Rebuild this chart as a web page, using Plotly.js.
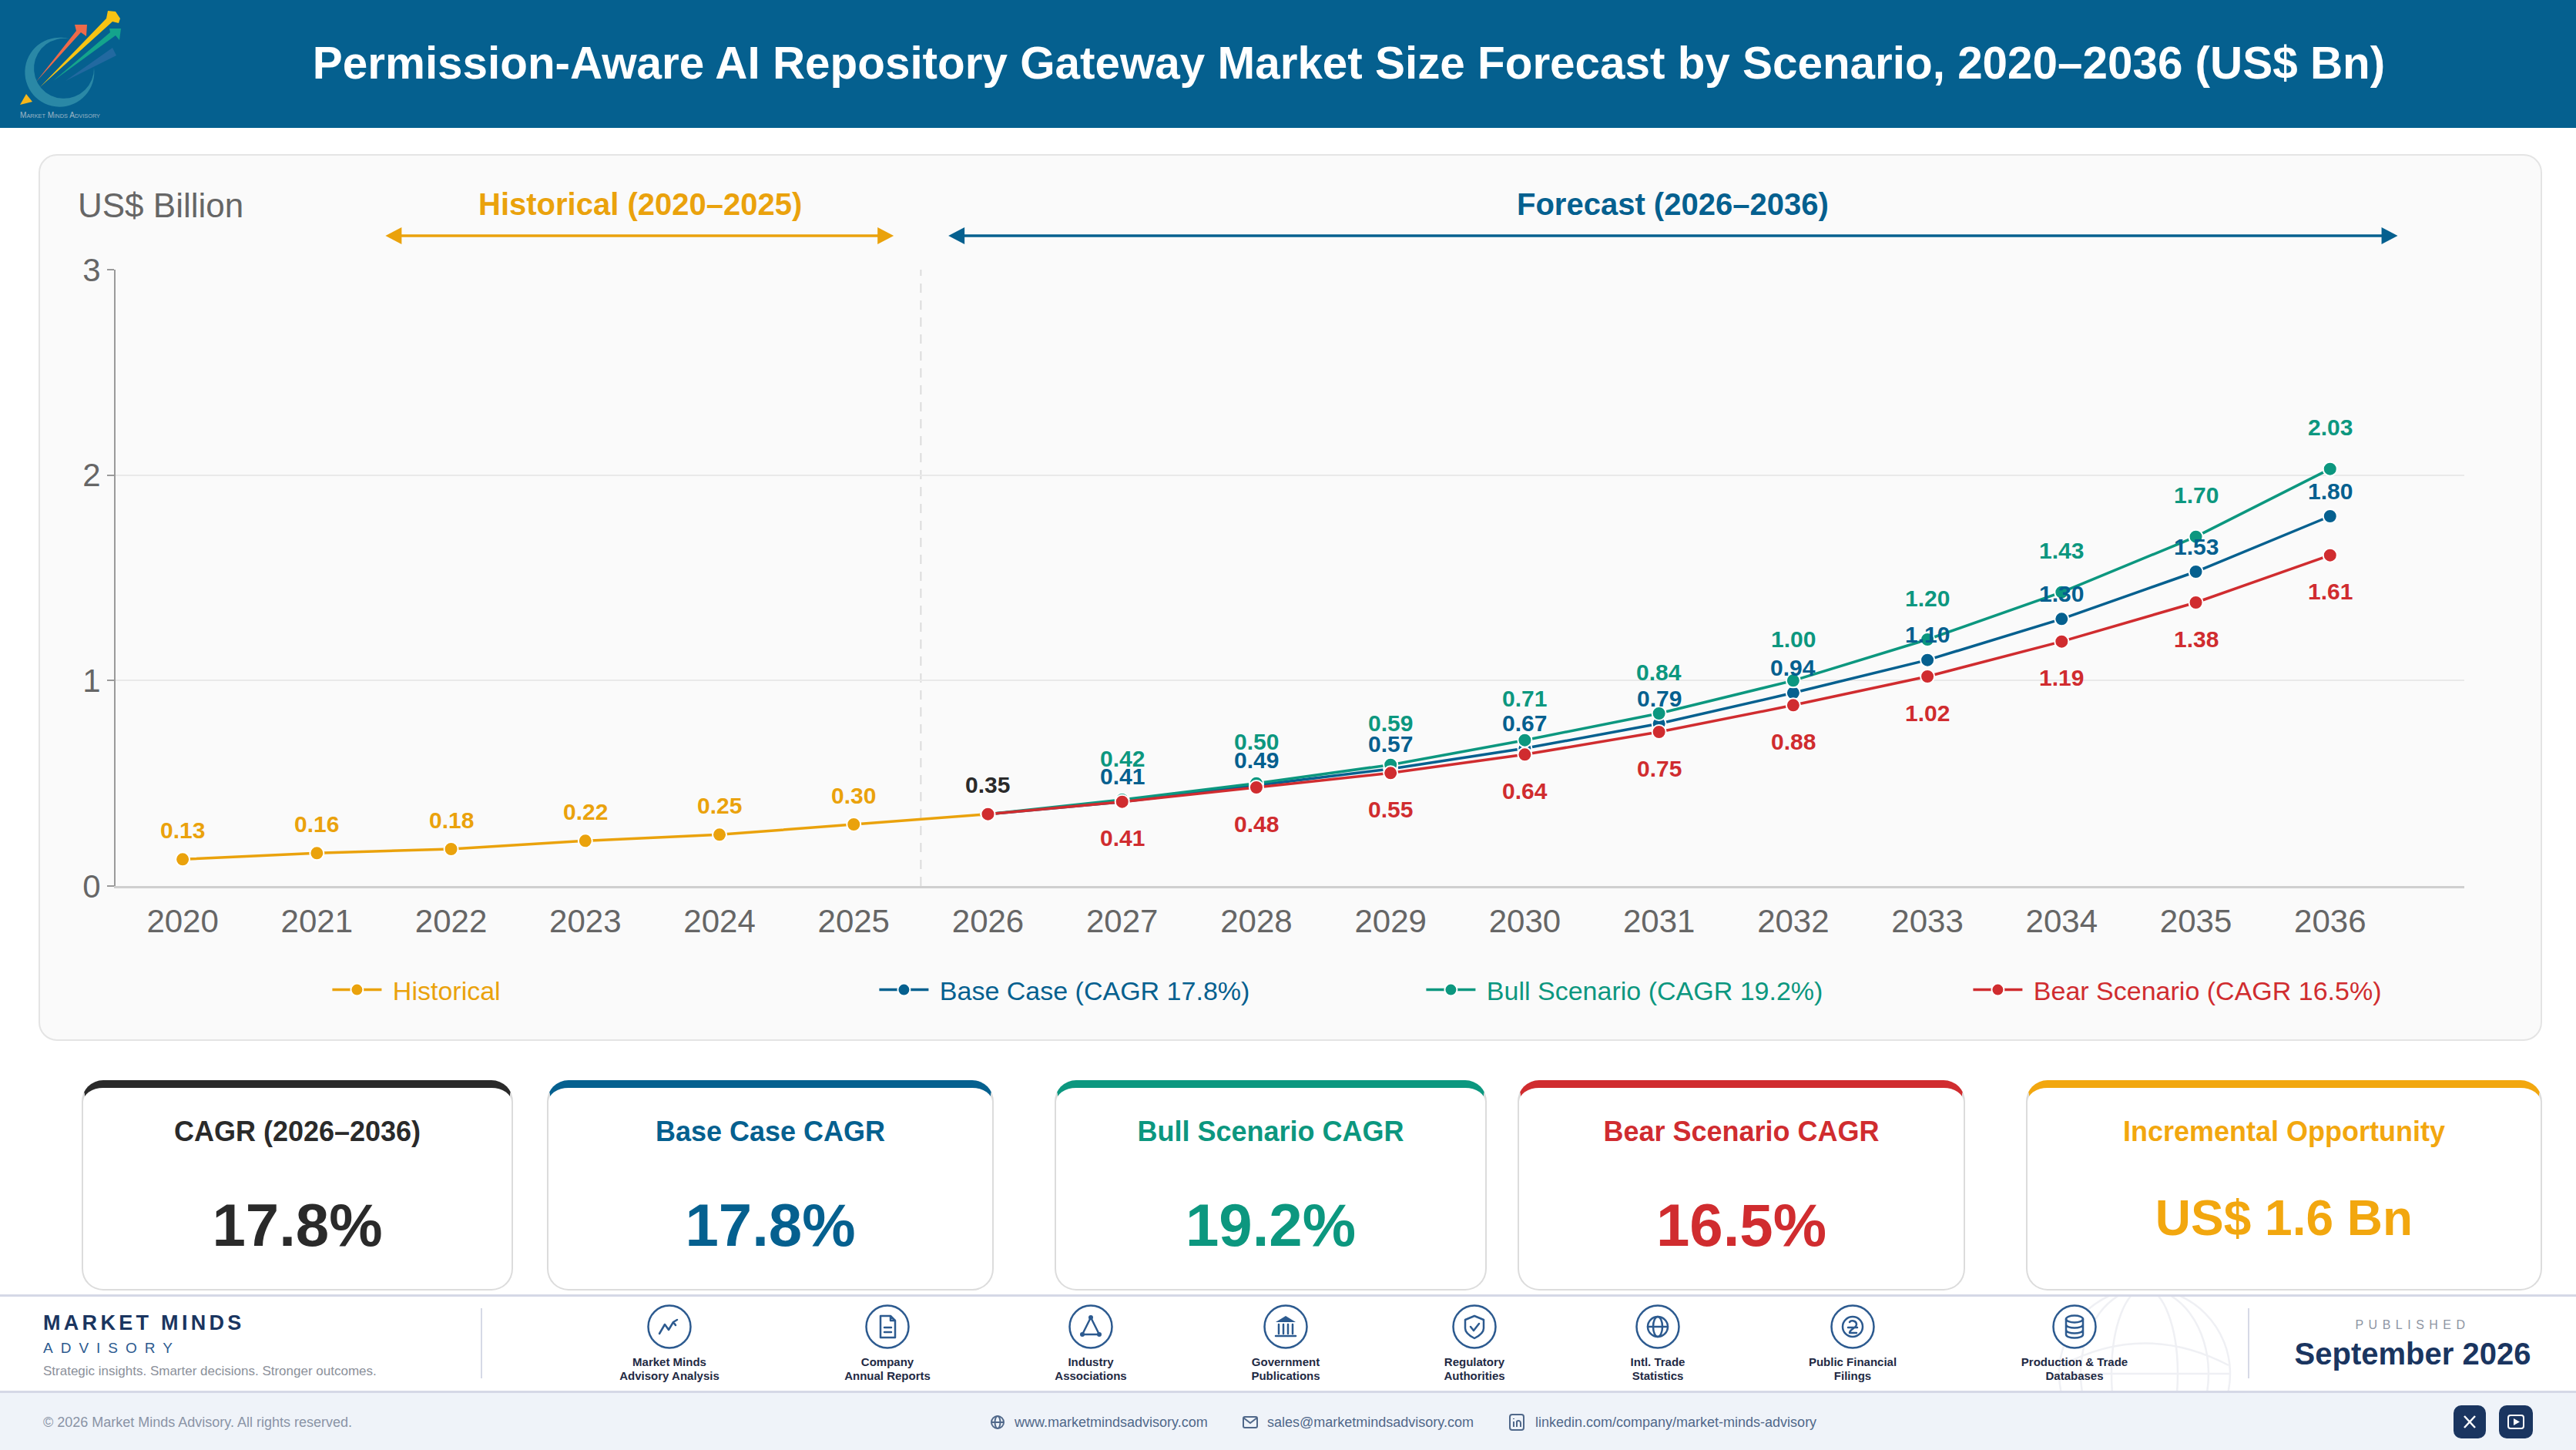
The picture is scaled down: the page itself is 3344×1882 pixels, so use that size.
<!DOCTYPE html>
<html><head><meta charset="utf-8">
<script src="https://cdn.plot.ly/plotly-3.0.1.min.js"></script>
<style>
html,body{margin:0;padding:0;background:#fff;width:3344px;height:1882px;overflow:hidden;font-family:"Liberation Sans",Arial,sans-serif}
#stage{position:absolute;left:0;top:0;width:3344px;height:1882px;overflow:hidden}
.box{position:absolute;box-sizing:border-box}
.t{position:absolute;white-space:nowrap;line-height:1}
#chart{position:absolute;left:0;top:0;width:3344px;height:1882px}
svg.over{position:absolute;left:0;top:0}
</style></head><body><div id="stage">
<div class="box" style="left:0;top:0;width:3344px;height:166px;background:#05608f"></div>
<div class="box" style="left:50px;top:200px;width:3250px;height:1151px;background:#fafafa;border:2px solid #e4e4e4;border-radius:24px"></div>
<div class="box" style="left:0;top:1680px;width:3344px;height:128px;background:#fff;border-top:3px solid #d5d8e6;border-bottom:3px solid #d5d8e6"></div>
<div class="box" style="left:0;top:1808px;width:3344px;height:74px;background:#eff3f9"></div>
<svg class="over" id="deco" width="3344" height="1882" viewBox="0 0 3344 1882"></svg>
<div id="chart"></div>
<div id="txt"></div>
</div>
<script>
const YEARS_HIST=[2020,2021,2022,2023,2024,2025,2026];
const HISTORICAL=[0.13,0.16,0.18,0.22,0.25,0.30,0.35];
const YEARS_FC=[2026,2027,2028,2029,2030,2031,2032,2033,2034,2035,2036];
const BASE=[0.35,0.41,0.49,0.57,0.67,0.79,0.94,1.10,1.30,1.53,1.80];
const BULL=[0.35,0.42,0.50,0.59,0.71,0.84,1.00,1.20,1.43,1.70,2.03];
const BEAR=[0.35,0.41,0.48,0.55,0.64,0.75,0.88,1.02,1.19,1.38,1.61];
const TICK_YEARS=[2020,2021,2022,2023,2024,2025,2026,2027,2028,2029,2030,2031,2032,2033,2034,2035,2036];
const NAMES=["Historical","Base Case (CAGR 17.8%)","Bull Scenario (CAGR 19.2%)","Bear Scenario (CAGR 16.5%)"];
const TITLE="Permission-Aware AI Repository Gateway Market Size Forecast by Scenario, 2020–2036 (US$ Bn)";
const KPI_TITLES=["CAGR (2026–2036)","Base Case CAGR","Bull Scenario CAGR","Bear Scenario CAGR","Incremental Opportunity"];
const KPI_VALUES=["17.8%","17.8%","19.2%","16.5%","US$ 1.6 Bn"];
const SOURCES=[["Market Minds","Advisory Analysis"],["Company","Annual Reports"],["Industry","Associations"],["Government","Publications"],["Regulatory","Authorities"],["Intl. Trade","Statistics"],["Public Financial","Filings"],["Production & Trade","Databases"]];

const AMBER="#eaa20c",AMBER2="#f2a70f",BLUE="#05608f",GREEN="#0c977f",RED="#d02c2f",INK="#2a2a2a",NAVY="#1a3560",ICON="#2c5a8f";
const L=149.5,R=3199.5,T=350,B=1150;
const xp=p=>(p-L)/(R-L), yp=p=>(B-p)/(B-T);

function trace(x,y,name,color){return {x,y,name:'<span style="color:'+color+'">\u00a0'+name+'</span>',type:'scatter',mode:'lines+markers',
  line:{color,width:3.5},marker:{color,size:18,line:{color:'#fff',width:2}},hoverinfo:'skip'};}
const data=[trace(YEARS_HIST,HISTORICAL,NAMES[0],AMBER),trace(YEARS_FC,BASE,NAMES[1],BLUE),trace(YEARS_FC,BULL,NAMES[2],GREEN),trace(YEARS_FC,BEAR,NAMES[3],RED)];

const ann=[];
function lab(xs,ys,color,shift,from,to){for(let i=from;i<to;i++)ann.push({x:xs[i],y:ys[i],xref:'x',yref:'y',text:ys[i].toFixed(2),showarrow:false,yshift:shift,xanchor:'center',yanchor:'middle',font:{family:'Liberation Sans',size:30,color,weight:700}});}
lab(YEARS_HIST,HISTORICAL,AMBER,38,0,6);
lab(YEARS_HIST,HISTORICAL,INK,38,6,7);
lab(YEARS_FC,BASE,BLUE,33,1,11);
lab(YEARS_FC,BULL,GREEN,54,1,11);
lab(YEARS_FC,BEAR,RED,-47,1,11);
function pt(text,x,y,size,color,weight,anchor){ann.push({xref:'paper',yref:'paper',x:xp(x),y:yp(y),text,showarrow:false,xanchor:anchor||'center',yanchor:'middle',font:{family:'Liberation Sans',size,color,weight:weight||400}});}
pt('US$ Billion',98,266,44,'#666666',400,'left');
pt('Historical (2020–2025)',830.5,265.5,40,AMBER,700);
pt('Forecast (2026–2036)',2172,265.5,40,BLUE,700);

function arrow(x0,x1,y,c){return [
 {type:'line',xref:'paper',yref:'paper',x0:xp(x0+15),x1:xp(x1-15),y0:yp(y),y1:yp(y),line:{color:c,width:3.5}},
 {type:'path',xref:'paper',yref:'paper',path:`M ${xp(x0)} ${yp(y)} L ${xp(x0+21)} ${yp(y-11)} L ${xp(x0+21)} ${yp(y+11)} Z`,fillcolor:c,line:{width:0}},
 {type:'path',xref:'paper',yref:'paper',path:`M ${xp(x1)} ${yp(y)} L ${xp(x1-21)} ${yp(y-11)} L ${xp(x1-21)} ${yp(y+11)} Z`,fillcolor:c,line:{width:0}}];}
const shapes=[{type:'line',xref:'x',yref:'paper',x0:2025.5,x1:2025.5,y0:0,y1:1,line:{color:'#dcdcdc',width:2,dash:'12px,10px'},layer:'below'},
 ...arrow(500,1160,306,AMBER),...arrow(1231,3113,306,BLUE)];

const layout={width:3344,height:1882,margin:{l:L,r:3344-R,t:T,b:1882-B,pad:0},paper_bgcolor:'rgba(0,0,0,0)',plot_bgcolor:'rgba(0,0,0,0)',
 font:{family:'Liberation Sans'},showlegend:true,annotations:ann,shapes,
 xaxis:{type:'linear',range:[2019.5,2037],tickmode:'array',tickvals:TICK_YEARS,ticktext:TICK_YEARS.map(String),showgrid:false,zeroline:false,
   showline:true,linecolor:'#cfcfcf',linewidth:3,ticks:'',tickfont:{size:42,color:'#666666'},ticklabelstandoff:7},
 yaxis:{range:[0,3],tickmode:'array',tickvals:[0,1,2,3],ticktext:['0','1','2','3'],showgrid:true,gridcolor:'#e9e9e9',gridwidth:2,zeroline:false,
   showline:true,linecolor:'#9a9a9a',linewidth:2,ticks:'outside',ticklen:9,tickwidth:2,tickcolor:'#9a9a9a',tickfont:{size:42,color:'#666666'}},
 legend:{orientation:'h',x:xp(426),y:yp(1285),xanchor:'left',yanchor:'middle',font:{size:34},itemwidth:64,entrywidth:631,entrywidthmode:'pixels',bgcolor:'rgba(0,0,0,0)',traceorder:'normal',itemclick:false,itemdoubleclick:false}};
Plotly.newPlot('chart',data,layout,{staticPlot:true,displayModeBar:false});

// page text
const txt=document.getElementById('txt');
function T_(text,x,y,size,color,o={}){const d=document.createElement('div');d.className='t';d.textContent=text;
 const tx=o.a==='l'?'0':'-50%';d.style.cssText=`left:${x}px;top:${y}px;font-size:${size}px;color:${color};font-weight:${o.w||400};letter-spacing:${o.ls||0}px;transform:translate(${tx},-50%)`;txt.appendChild(d);return d;}
T_(TITLE,1751,82,58.4,'#ffffff',{w:700});

// KPI cards
const cards=[[106,666,INK],[710,1290,BLUE],[1369,1930,GREEN],[1970,2551,RED],[2630,3300,AMBER2]];
cards.forEach((c,i)=>{const d=document.createElement('div');d.className='box';
 d.style.cssText=`left:${c[0]}px;top:1402px;width:${c[1]-c[0]}px;height:273px;background:#fff;border:2px solid #dcdcdc;border-top:10px solid ${c[2]};border-radius:28px`;
 txt.appendChild(d);const cx=(c[0]+c[1])/2;
 T_(KPI_TITLES[i],cx,1469,36,c[2],{w:700});
 if(i<4)T_(KPI_VALUES[i],cx,1590,78,c[2],{w:700});else T_(KPI_VALUES[i],cx,1581,64,c[2],{w:700});
});

// footer text
T_('MARKET MINDS',56,1717,27,NAVY,{w:700,a:'l',ls:4.3});
T_('ADVISORY',56,1749,19,ICON,{a:'l',ls:10});
T_('Strategic insights. Smarter decisions. Stronger outcomes.',56,1779,17,'#8b909a',{a:'l'});
const ICX=[869,1152,1416,1669,1914,2152,2405,2693];
SOURCES.forEach((s,i)=>{T_(s[0],ICX[i],1767,15,'#1f2a44',{w:700});T_(s[1],ICX[i],1785,15,'#1f2a44',{w:700});});
T_('PUBLISHED',3132,1720,16,'#8e95a3',{ls:6.5,w:400});
T_('September 2026',3132,1757,40,NAVY,{w:700});
T_('© 2026 Market Minds Advisory. All rights reserved.',56,1846,18,'#8a94a6',{a:'l'});
T_('www.marketmindsadvisory.com',1317,1846,18,'#50688a',{a:'l'});
T_('sales@marketmindsadvisory.com',1645,1846,18,'#50688a',{a:'l'});
T_('linkedin.com/company/market-minds-advisory',1993,1846,18,'#50688a',{a:'l'});

// vector decoration
const s=`stroke="${ICON}" fill="none" stroke-width="2.5" stroke-linecap="round" stroke-linejoin="round"`;
const icons=[
 `<path d="M-13 9 L-6 -3 L-1 4 L5 -6 L8 -2 M5 -6 L10 -9" ${s}/>`,
 `<path d="M-9 -14 H4 L10 -8 V14 H-9 Z M4 -14 V-8 H10 M-4 1 H5 M-4 7 H5" ${s}/>`,
 `<path d="M0 -12 L-11 10 H11 Z" ${s}/><circle cx="0" cy="-12" r="3" fill="${ICON}"/><circle cx="-11" cy="10" r="3" fill="${ICON}"/><circle cx="11" cy="10" r="3" fill="${ICON}"/>`,
 `<path d="M-13 -6 L0 -14 L13 -6 Z" fill="${ICON}"/><path d="M-9 -3 V9 M-3 -3 V9 M3 -3 V9 M9 -3 V9 M-13 12 H13" ${s}/>`,
 `<path d="M0 -14 L12 -9 V2 C12 8 6 12 0 15 C-6 12 -12 8 -12 2 V-9 Z M-5 0 L-1 5 L6 -4" ${s}/>`,
 `<circle r="13" ${s}/><ellipse rx="6" ry="13" ${s}/><path d="M-13 0 H13" ${s}/>`,
 `<circle r="13" ${s}/><path d="M-4 -6 C-2 -9 5 -8 5 -3 C5 2 -4 3 -4 8 H5 M-6 1 H6" ${s}/>`,
 `<ellipse cy="-10" rx="11" ry="4.5" ${s}/><path d="M-11 -10 V10 C-11 16 11 16 11 10 V-10 M-11 -3 C-11 3 11 3 11 -3 M-11 4 C-11 10 11 10 11 4" ${s}/>`];
let g='';
// logo
g+=`<path d="M90 50.5 A45 45 0 1 0 122 88 A39 39 0 1 1 90 50.5 Z" fill="#2a88a6"/>`;
g+=`<path d="M85 105 L146 62 L151 72 Z" fill="#2269a0"/>`;
g+=`<path d="M47 106 L99 40 L97 32 L113 32 L112 47 L105 42 Z" fill="#ee6a4a"/>`;
g+=`<path d="M69 105 L143 42 L142 37 L157 37 L155 52 L150 46 Z" fill="#14a48c"/>`;
g+=`<path d="M52 113 L138 24 L140 14 L150 15 L156 24 L154 30 L146 28 Z" fill="#f7c313"/>`;
g+=`<path d="M34 122 L26 136 L42 132 Z" fill="#f7b61a"/>`;
g+=`<text x="26" y="153" font-family="Liberation Sans" font-size="11" style="font-variant:small-caps" fill="#9db6c6" textLength="104" lengthAdjust="spacingAndGlyphs">Market Minds Advisory</text>`;
// watermark globe
g+=`<g clip-path="url(#fc)" fill="none" stroke="#eff0f4" stroke-width="2.5"><circle cx="2784" cy="1783" r="111"/><ellipse cx="2784" cy="1783" rx="83" ry="111"/><ellipse cx="2784" cy="1783" rx="43" ry="111"/><path d="M2673 1783 H2895 M2677 1772 Q2784 1715 2893 1772"/></g>`;
g+=`<defs><clipPath id="fc"><rect x="2640" y="1683" width="300" height="122"/></clipPath></defs>`;
// dividers
g+=`<path d="M625 1698 V1789 M2919 1698 V1789" stroke="#d6d9e6" stroke-width="2"/>`;
ICX.forEach((x,i)=>{g+=`<g transform="translate(${x},1722)"><circle r="27.5" fill="#fff" stroke="${ICON}" stroke-width="2.5"/>${icons[i]}</g>`;});
const s2=`stroke="#50688a" fill="none" stroke-width="2"`;
g+=`<g transform="translate(1295,1846)"><circle r="8" ${s2}/><ellipse rx="3.5" ry="8" ${s2}/><path d="M-8 0 H8" ${s2}/></g>`;
g+=`<g transform="translate(1623,1846)"><rect x="-9" y="-7" width="18" height="14" rx="2" ${s2}/><path d="M-9 -6 L0 1 L9 -6" ${s2}/></g>`;
g+=`<g transform="translate(1969,1846)"><rect x="-9" y="-10" width="18" height="20" rx="3" ${s2}/><path d="M-4 -1 V6 M0 6 V-1 C2 -3 5 -2 5 1 V6 M-4 -5 V-4" ${s2}/></g>`;
g+=`<rect x="3185" y="1824" width="42" height="43" rx="10" fill="${NAVY}"/><path d="M3199 1838 L3213 1853 M3213 1838 L3199 1853" stroke="#fff" stroke-width="2.5"/>`;
g+=`<rect x="3244" y="1824" width="44" height="43" rx="10" fill="${NAVY}"/><rect x="3256" y="1837" width="20" height="17" rx="3" fill="none" stroke="#fff" stroke-width="2"/><path d="M3263 1841 L3271 1845.5 L3263 1850 Z" fill="#fff"/>`;
document.getElementById('deco').innerHTML=g;
</script></body></html>
